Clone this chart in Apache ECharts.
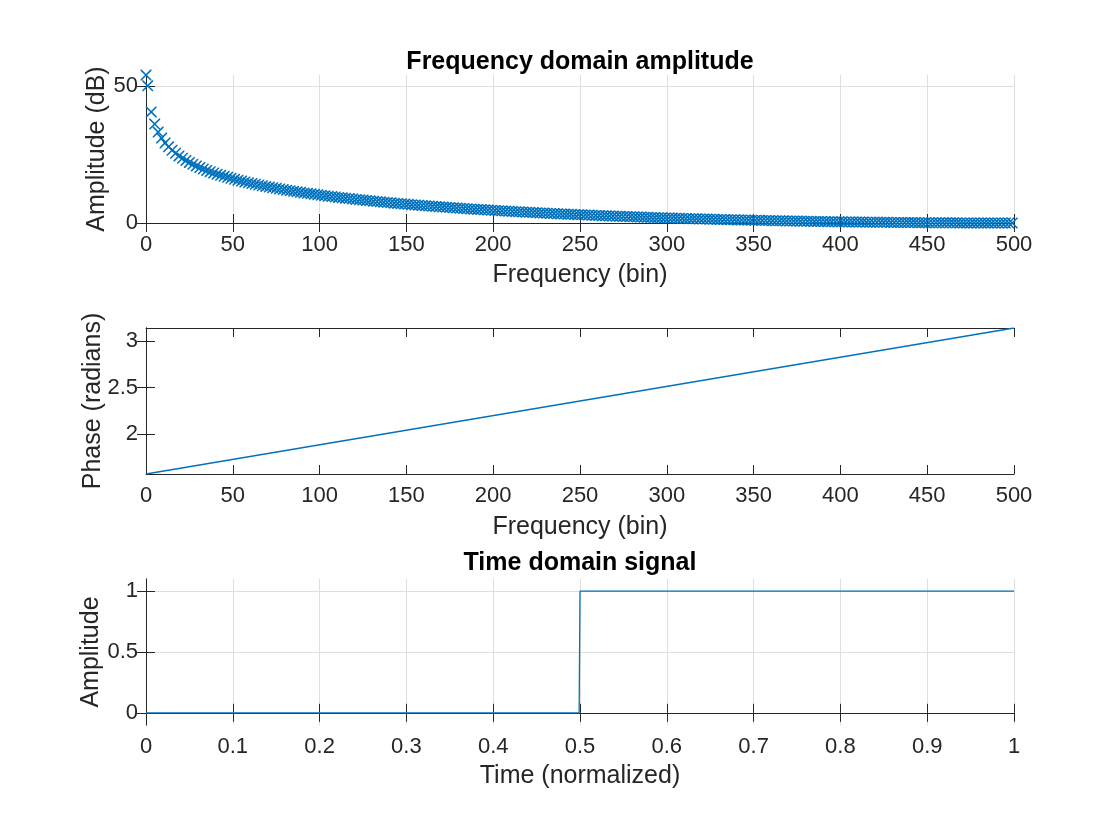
<!DOCTYPE html>
<html>
<head>
<meta charset="utf-8">
<script src="https://cdn.jsdelivr.net/npm/echarts@6/dist/echarts.min.js"></script>
<style>
html,body{margin:0;padding:0;background:#fff;}
#chart{width:1120px;height:840px;}
</style>
</head>
<body>
<div id="chart"></div>
<script>
// ---- data ----
const ampBins = [0,1,3,5,7,9,11,13,15,17,19,21,23,25,27,29,31,33,35,37,39,41,43,45,47,49,
51,53,55,57,59,61,63,65,67,69,71,73,75,77,79,81,83,85,87,89,91,93,95,97,99,
101,103,105,107,109,111,113,115,117,119,121,123,125,127,129,131,133,135,137,139,141,143,145,147,149,
151,153,155,157,159,161,163,165,167,169,171,173,175,177,179,181,183,185,187,189,191,193,195,197,199,
201,203,205,207,209,211,213,215,217,219,221,223,225,227,229,231,233,235,237,239,241,243,245,247,249,
251,253,255,257,259,261,263,265,267,269,271,273,275,277,279,281,283,285,287,289,291,293,295,297,299,
301,303,305,307,309,311,313,315,317,319,321,323,325,327,329,331,333,335,337,339,341,343,345,347,349,
351,353,355,357,359,361,363,365,367,369,371,373,375,377,379,381,383,385,387,389,391,393,395,397,399,
401,403,405,407,409,411,413,415,417,419,421,423,425,427,429,431,433,435,437,439,441,443,445,447,449,
451,453,455,457,459,461,463,465,467,469,471,473,475,477,479,481,483,485,487,489,491,493,495,497,499];
const ampDb = [53.98,50.06,40.51,36.08,33.16,30.97,29.23,27.78,26.54,25.45,24.49,23.62,22.83,22.11,21.44,20.82,20.24,19.70,19.19,18.71,18.26,17.83,17.41,17.02,16.65,16.29,
15.94,15.61,15.29,14.99,14.69,14.40,14.13,13.86,13.60,13.35,13.10,12.87,12.64,12.41,12.19,11.98,11.77,11.57,11.38,11.18,10.99,10.81,10.63,10.46,10.28,
10.12,9.96,9.80,9.64,9.48,9.33,9.19,9.04,8.90,8.75,8.61,8.48,8.35,8.22,8.09,7.96,7.84,7.72,7.60,7.48,7.36,7.25,7.14,7.03,6.91,
6.81,6.70,6.60,6.50,6.39,6.30,6.20,6.10,6.01,5.91,5.82,5.73,5.64,5.55,5.46,5.38,5.30,5.21,5.13,5.05,4.97,4.89,4.81,4.73,4.65,
4.58,4.51,4.43,4.36,4.29,4.22,4.15,4.08,4.01,3.94,3.88,3.82,3.75,3.69,3.62,3.56,3.50,3.44,3.38,3.32,3.26,3.21,3.15,3.09,3.04,
2.98,2.93,2.88,2.83,2.77,2.72,2.67,2.62,2.57,2.52,2.47,2.43,2.38,2.33,2.29,2.24,2.20,2.16,2.11,2.07,2.03,1.98,1.94,1.90,1.86,
1.82,1.78,1.75,1.71,1.67,1.63,1.59,1.56,1.52,1.49,1.45,1.42,1.39,1.35,1.32,1.29,1.26,1.23,1.19,1.16,1.13,1.10,1.07,1.05,1.02,
0.99,0.96,0.94,0.91,0.88,0.86,0.83,0.81,0.78,0.76,0.73,0.71,0.69,0.67,0.64,0.62,0.60,0.58,0.56,0.54,0.52,0.50,0.48,0.46,0.44,
0.43,0.41,0.39,0.38,0.36,0.34,0.33,0.31,0.30,0.28,0.27,0.26,0.24,0.23,0.22,0.21,0.19,0.18,0.17,0.16,0.15,0.14,0.13,0.12,0.11,
0.10,0.10,0.09,0.08,0.07,0.07,0.06,0.05,0.05,0.04,0.04,0.03,0.03,0.02,0.02,0.02,0.01,0.01,0.01,0.00,0.00,0.00,0.00,0.00,0.00];

const phaseBins = [0, 500];
const phaseRad = [1.5708, 3.1416];

const timeX = [0, 0.499, 0.5, 1];
const timeY = [0, 0, 1, 1];

const freqTicks = [0,50,100,150,200,250,300,350,400,450,500];
const ampTicks = [0,50];
const phaseTicks = [2,2.5,3];
const timeTicks = [0,0.1,0.2,0.3,0.4,0.5,0.6,0.7,0.8,0.9,1];
const sigTicks = [0,0.5,1];

// ---- styling ----
const FONT = 'Liberation Sans, Arial, Helvetica, sans-serif';
const AX = '#262626';
const GRIDC = '#dfdfdf';
const BLUE = '#0072BD';
const XSYM = 'path://M0,0L10,0L100,90L100,100L90,100L0,10ZM100,0L100,10L10,100L0,100L0,90L90,0Z';
const TICK = {show: true, inside: false, length: -9, lineStyle: {color: AX, width: 1}};

function tick(vals) { return Object.assign({}, TICK, {customValues: vals}); }

function xAx(gi, min, max, ticks, name, split, gap) {
  return {
    type: 'value', gridIndex: gi, position: 'bottom', min: min, max: max,
    name: name, nameLocation: 'middle', nameGap: gap, nameMoveOverlap: false,
    nameTextStyle: {fontFamily: FONT, fontSize: 25, color: AX, lineHeight: 25},
    axisLine: {show: true, lineStyle: {color: AX, width: 1}},
    axisTick: tick(ticks),
    axisLabel: {show: true, customValues: ticks, margin: 11, fontFamily: FONT, fontSize: 22, color: AX, lineHeight: 22},
    splitLine: {show: split, lineStyle: {color: GRIDC, width: 1}}
  };
}
function xTop(gi, min, max, ticks) {
  return {
    type: 'value', gridIndex: gi, position: 'top', min: min, max: max,
    axisLine: {show: true, lineStyle: {color: AX, width: 1}},
    axisTick: tick(ticks),
    axisLabel: {show: false}, splitLine: {show: false}
  };
}
function yAx(gi, min, max, ticks, name, split, gap) {
  return {
    type: 'value', gridIndex: gi, position: 'left', min: min, max: max,
    name: name, nameLocation: 'middle', nameGap: gap, nameMoveOverlap: false,
    nameTextStyle: {fontFamily: FONT, fontSize: 25, color: AX, lineHeight: 25},
    axisLine: {show: true, lineStyle: {color: AX, width: 1}},
    axisTick: tick(ticks),
    axisLabel: {show: true, customValues: ticks, margin: 8, fontFamily: FONT, fontSize: 22, color: AX},
    splitLine: {show: split, lineStyle: {color: GRIDC, width: 1}}
  };
}
function yRight(gi, min, max, ticks) {
  return {
    type: 'value', gridIndex: gi, position: 'right', min: min, max: max,
    axisLine: {show: true, lineStyle: {color: AX, width: 1}},
    axisTick: tick(ticks),
    axisLabel: {show: false}, splitLine: {show: false}
  };
}

const ampData = ampBins.map((b, i) => [b, ampDb[i]]);
const phaseData = phaseBins.map((b, i) => [b, phaseRad[i]]);
const timeData = timeX.map((t, i) => [t, timeY[i]]);

const option = {
  animation: false,
  backgroundColor: '#ffffff',
  title: [
    {text: 'Frequency domain amplitude', left: 580, top: 50, padding: 0, textAlign: 'center',
     textStyle: {fontFamily: FONT, fontSize: 25, fontWeight: 'bold', color: '#000', lineHeight: 25}},
    {text: 'Time domain signal', left: 580, top: 551, padding: 0, textAlign: 'center',
     textStyle: {fontFamily: FONT, fontSize: 25, fontWeight: 'bold', color: '#000', lineHeight: 25}}
  ],
  grid: [
    {left: 146, top: 75, width: 868, height: 148},
    {left: 146, top: 328, width: 868, height: 146},
    {left: 146, top: 579, width: 868, height: 146}
  ],
  xAxis: [
    xAx(0, 0, 500, freqTicks, 'Frequency (bin)', true, 40),
    xTop(0, 0, 500, freqTicks),
    xAx(1, 0, 500, freqTicks, 'Frequency (bin)', false, 41),
    xTop(1, 0, 500, freqTicks),
    xAx(2, 0, 1, timeTicks, 'Time (normalized)', true, 39),
    xTop(2, 0, 1, timeTicks)
  ],
  yAxis: [
    yAx(0, 0, 54, ampTicks, 'Amplitude (dB)', true, 36),
    yRight(0, 0, 54, ampTicks),
    yAx(1, 1.5708, 3.1416, phaseTicks, 'Phase (radians)', false, 40.5),
    yRight(1, 1.5708, 3.1416, phaseTicks),
    yAx(2, -0.1, 1.1, sigTicks, 'Amplitude', true, 42.5),
    yRight(2, -0.1, 1.1, sigTicks)
  ],
  series: [
    {type: 'scatter', xAxisIndex: 0, yAxisIndex: 0, data: ampData, symbol: XSYM, symbolSize: 11,
     itemStyle: {color: BLUE, opacity: 1}, clip: false, silent: true},
    {type: 'line', xAxisIndex: 2, yAxisIndex: 2, data: phaseData, showSymbol: false, symbol: 'none',
     lineStyle: {color: BLUE, width: 1.3}, silent: true},
    {type: 'line', xAxisIndex: 4, yAxisIndex: 4, data: timeData, showSymbol: false, symbol: 'none',
     lineStyle: {color: BLUE, width: 1.3}, silent: true}
  ]
};

const chart = echarts.init(document.getElementById('chart'), null, {renderer: 'canvas'});
chart.setOption(option);
</script>
</body>
</html>
